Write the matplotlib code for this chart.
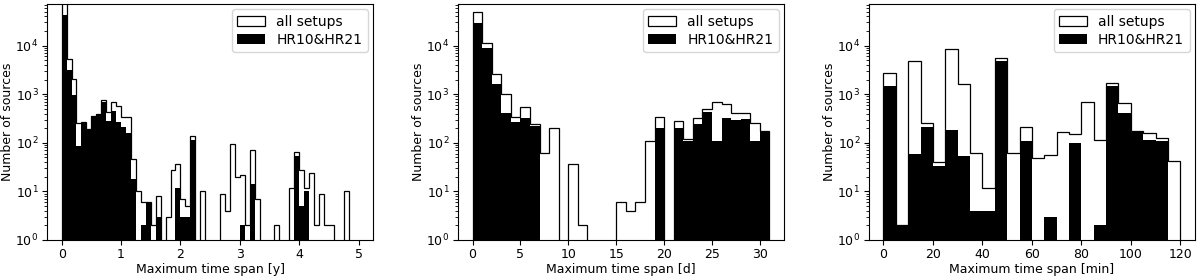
import matplotlib
matplotlib.use("Agg")
import matplotlib.pyplot as plt
import numpy as np

plt.rcParams["font.size"] = 9

# bin edges of the three histograms
edges_y = np.linspace(0, 5, 61)      # years, 1/12 yr bins
edges_d = np.arange(0, 32, 1)        # days
edges_min = np.arange(0, 125, 5)     # minutes

# counts per bin: all setups / HR10&HR21
all_y = [75000, 5300, 2030, 250, 270, 190, 355, 385, 760, 425,
         705, 575, 345, 345, 46, 10, 6, 6, 2, 8,
         0, 3, 27, 36, 7, 5, 138, 0, 10, 0,
         0, 0, 9, 4, 93, 20, 22, 2, 72, 7,
         0, 0, 0, 2, 0, 0, 12, 66, 28, 12,
         24, 2, 9, 2, 2, 0, 0, 10, 0, 0]
hr_y = [42600, 3150, 960, 87, 250, 190, 355, 385, 705, 280,
        450, 272, 215, 156, 18, 0, 2, 6, 0, 3,
        0, 0, 0, 12, 3, 3, 114, 0, 0, 0,
        0, 0, 0, 0, 0, 0, 2, 0, 14, 0,
        0, 0, 0, 0, 0, 0, 0, 54, 5, 10,
        0, 0, 0, 0, 0, 0, 0, 0, 0, 0]

all_d = [50000, 11100, 2600, 1000, 335, 555, 240, 61, 199, 0,
         36, 2, 0, 0, 0, 6, 4, 6, 110, 345,
         0, 280, 122, 318, 500, 680, 620, 405, 405, 260, 175]
hr_d = [28700, 8800, 1600, 405, 273, 320, 222, 0, 0, 0,
        0, 0, 0, 0, 0, 0, 0, 0, 0, 198,
        0, 198, 108, 240, 437, 110, 318, 295, 303, 110, 175]

all_min = [2690, 2, 4800, 260, 40, 8700, 1600, 61, 12, 5450, 63, 215,
           48, 56, 164, 150, 680, 114, 1670, 650, 175, 156, 128, 43]
hr_min = [1480, 2, 58, 212, 33, 183, 54, 4, 4, 4900, 0, 110,
          0, 3, 0, 100, 0, 2, 1440, 417, 170, 114, 109, 0]

panels = [
    (edges_y, all_y, hr_y, "Maximum time span [y]"),
    (edges_d, all_d, hr_d, "Maximum time span [d]"),
    (edges_min, all_min, hr_min, "Maximum time span [min]"),
]

fig, axes = plt.subplots(1, 3, figsize=(12, 2.8), dpi=100)
fig.subplots_adjust(left=0.039, right=0.996, bottom=0.143, top=0.986, wspace=0.258)

for ax, (edges, a, h, xlabel) in zip(axes, panels):
    centers = 0.5 * (edges[:-1] + edges[1:])
    ax.hist(centers, bins=edges, weights=a, histtype="step", color="k",
            linewidth=0.9, log=True, label="all setups")
    ax.hist(centers, bins=edges, weights=h, histtype="stepfilled", color="k",
            log=True, label="HR10&HR21")
    ax.set_ylim(1, 7.2e4)
    ax.tick_params(pad=2.5)
    ax.set_xlabel(xlabel, labelpad=1.5)
    ax.set_ylabel("Number of sources", labelpad=1)
    ax.legend(loc="upper right", fontsize=10, labelspacing=0.25,
              borderaxespad=0.4)

fig.savefig("out.png", dpi=100)
